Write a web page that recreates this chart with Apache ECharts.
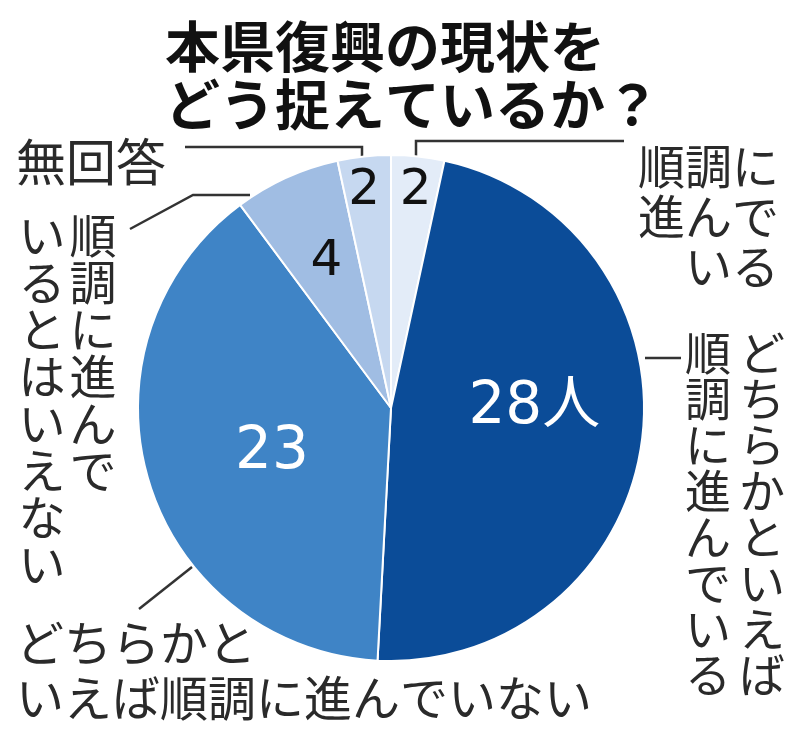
<!DOCTYPE html>
<html>
<head>
<meta charset="utf-8">
<script src="https://cdn.jsdelivr.net/npm/echarts@6/dist/echarts.min.js"></script>
<style>
html,body{margin:0;padding:0;background:#fff;}
#chart{width:800px;height:744px;}
</style>
</head>
<body>
<div id="chart"></div>
<script>
// ---- data ----
const titleLines = ['本県復興の現状を', 'どう捉えているか？'];
const categories = [
  '順調に進んでいる',
  'どちらかといえば順調に進んでいる',
  'どちらかといえば順調に進んでいない',
  '順調に進んでいるとはいえない',
  '無回答'
];
const values = [2, 28, 23, 4, 2];
const valueLabels = ['2', '28人', '23', '4', '2'];
const colors = ['#e3ecf8', '#0b4c98', '#3f84c6', '#a0bde3', '#c6d8f0'];
const valueLabelColors = ['#111', '#fff', '#fff', '#111', '#111'];

// ---- layout / style ----
const FONT = '"Noto Sans CJK JP", "Noto Sans", sans-serif';
const NUM_FONT = '"DejaVu Sans", "Noto Sans CJK JP", sans-serif';
const TEXT_COLOR = '#2a2a2a';
const labelShift = [[11, -88], [15, -17], [5, 8], [-11, -28], [-13, -88]];
const labelSizes = [50, 58, 58, 50, 50];

const chart = echarts.init(document.getElementById('chart'));

function vText(str, cx, top, size) {
  return {
    type: 'text',
    style: {
      text: str.split('').join('\n'),
      x: cx, y: top,
      textAlign: 'center', textVerticalAlign: 'top',
      font: size + 'px ' + FONT,
      lineHeight: size,
      fill: TEXT_COLOR
    }
  };
}
function hText(str, x, y, size, lh, align) {
  return {
    type: 'text',
    style: {
      text: str,
      x: x, y: y,
      textAlign: align || 'left', textVerticalAlign: 'top',
      font: size + 'px ' + FONT,
      lineHeight: lh,
      fill: TEXT_COLOR
    }
  };
}
function line(pts) {
  return {
    type: 'polyline',
    shape: { points: pts },
    style: { stroke: '#333', lineWidth: 2.5, fill: null }
  };
}

const c0 = categories[0];
const c1 = categories[1];
const c2 = categories[2];
const c3 = categories[3];
const c4 = categories[4];

const option = {
  backgroundColor: '#fff',
  animation: false,
  title: {
    text: titleLines.join('\n'),
    left: 160,
    top: 12,
    textStyle: {
      fontFamily: FONT,
      fontSize: 55,
      fontWeight: 'bold',
      lineHeight: 58,
      color: '#111'
    }
  },
  series: [{
    type: 'pie',
    center: [391, 408],
    radius: [0, 253],
    startAngle: 90,
    clockwise: true,
    data: categories.map((n, i) => ({
      name: n,
      value: values[i],
      itemStyle: { color: colors[i] },
      label: { color: valueLabelColors[i], fontSize: labelSizes[i] }
    })),
    itemStyle: { borderColor: '#fff', borderWidth: 2 },
    label: {
      show: true,
      position: 'inside',
      formatter: p => valueLabels[p.dataIndex],
      fontFamily: NUM_FONT
    },
    labelLine: { show: false },
    labelLayout: p => ({ dx: labelShift[p.dataIndex][0], dy: labelShift[p.dataIndex][1] }),
    emphasis: { disabled: true }
  }],
  graphic: [
    hText(c4, 16, 136, 50, 52),
    line([[185, 147], [362, 147], [362, 157]]),
    hText(c0.slice(0, 3) + '\n' + c0.slice(3, 6) + '\n' + c0.slice(6), 779, 141, 47, 50, 'right'),
    line([[416, 158], [416, 141], [624, 141]]),
    vText(c3.slice(0, 6), 93, 212, 47),
    vText(c3.slice(6), 42, 212, 47),
    line([[130, 229], [193, 195], [250, 195]]),
    hText(c2.slice(0, 5) + '\n' + c2.slice(5), 16, 615, 48, 55),
    line([[139, 609], [192, 567]]),
    vText(c1.slice(0, 8), 762, 330, 46),
    vText(c1.slice(8), 708, 330, 46),
    line([[645, 358], [681, 358]])
  ]
};
chart.setOption(option);
</script>
</body>
</html>
